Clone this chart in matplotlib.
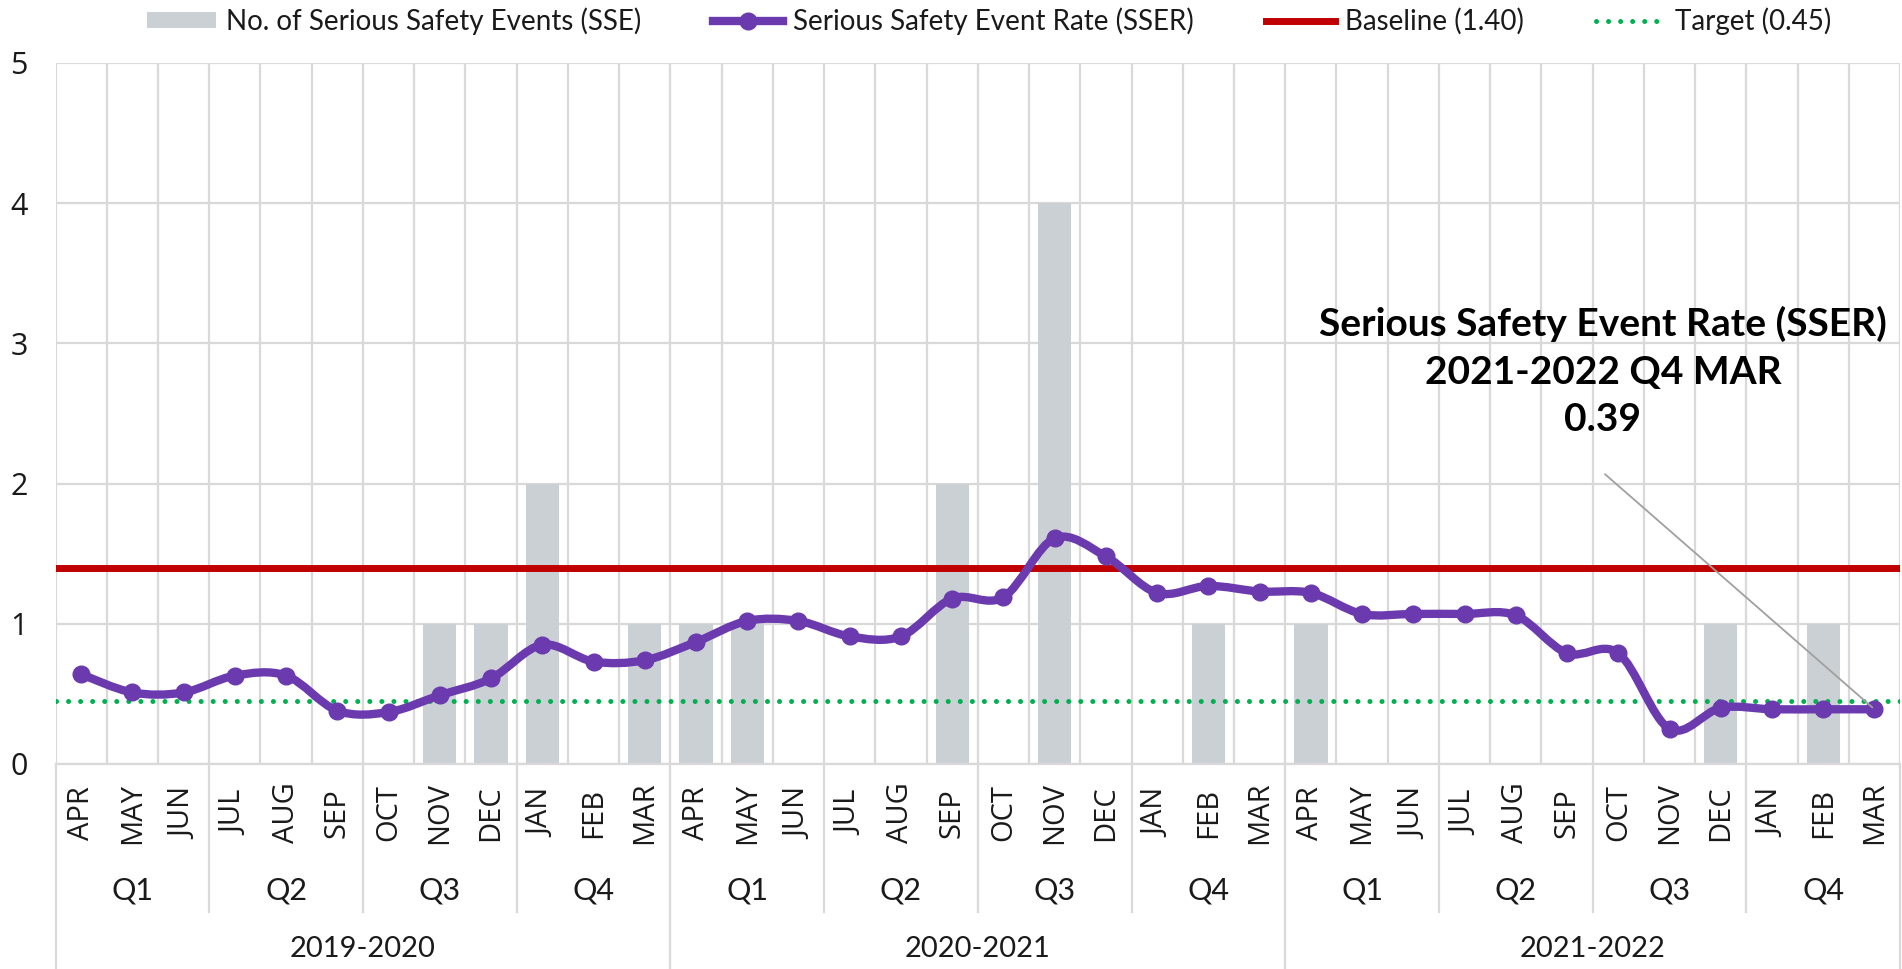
import numpy as np
import matplotlib
matplotlib.use("Agg")
import matplotlib.pyplot as plt
from matplotlib.path import Path
from matplotlib.patches import PathPatch, Patch
from matplotlib.lines import Line2D

plt.rcParams['font.family'] = ['Lato', 'DejaVu Sans']
AXFONT = ['Open Sans', 'DejaVu Sans']

# ---- data -------------------------------------------------------------
months = ['APR', 'MAY', 'JUN', 'JUL', 'AUG', 'SEP',
          'OCT', 'NOV', 'DEC', 'JAN', 'FEB', 'MAR']
quarters = ['Q1', 'Q2', 'Q3', 'Q4']
years = ['2019-2020', '2020-2021', '2021-2022']

sse = [0, 0, 0, 0, 0, 0, 0, 1, 1, 2, 0, 1,
       1, 1, 0, 0, 0, 2, 0, 4, 0, 0, 1, 0,
       1, 0, 0, 0, 0, 0, 0, 0, 1, 0, 1, 0]
sser = [0.64, 0.51, 0.51, 0.63, 0.63, 0.38, 0.37, 0.49, 0.61, 0.85, 0.73, 0.74,
        0.87, 1.02, 1.02, 0.91, 0.91, 1.18, 1.19, 1.61, 1.48, 1.22, 1.27, 1.23,
        1.22, 1.07, 1.07, 1.07, 1.06, 0.79, 0.79, 0.25, 0.40, 0.39, 0.39, 0.39]
baseline = 1.40
target = 0.45
latest_label = 'Serious Safety Event Rate (SSER)\n2021-2022 Q4 MAR\n0.39'

PURPLE = '#6a3aae'
RED = '#c00000'
GREEN = '#00b050'
BAR = '#cbd0d5'
GRID = '#d9d9d9'
TXT = '#1a1a1a'

n = len(sser)
x = np.arange(n)

fig = plt.figure(figsize=(19.02, 9.69), dpi=100)
ax = fig.add_axes([0.0292, 0.2116, 0.9698, 0.7234])

ax.bar(x, sse, width=0.65, color=BAR, zorder=1)

# smoothed line (Excel style bezier through the points)
pts = np.column_stack([x, sser]).astype(float)
ext = np.vstack([pts[0], pts, pts[-1]])
verts = [tuple(pts[0])]
codes = [Path.MOVETO]
for i in range(n - 1):
    p0, p1, p2, p3 = ext[i], ext[i + 1], ext[i + 2], ext[i + 3]
    c1 = p1 + (p2 - p0) / 6.0
    c2 = p2 - (p3 - p1) / 6.0
    verts += [tuple(c1), tuple(c2), tuple(p2)]
    codes += [Path.CURVE4] * 3
ax.add_patch(PathPatch(Path(verts, codes), facecolor='none', edgecolor=PURPLE,
                       lw=6, capstyle='round', joinstyle='round', zorder=4))
ax.plot(x, sser, 'o', color=PURPLE, ms=12, zorder=5)

ax.axhline(baseline, color=RED, lw=5, zorder=3)
ax.axhline(target, color=GREEN, lw=3.6, ls=(0, (0.01, 2.4)),
           dash_capstyle='round', zorder=3)

ax.set_xlim(-0.5, n - 0.5)
ax.set_ylim(0, 5)
ax.set_yticks(range(6))
ax.set_xticks([])
ax.set_xticks(np.arange(-0.5, n, 1), minor=True)
ax.grid(True, axis='y', color=GRID, lw=1.6, zorder=0)
ax.grid(True, axis='x', which='minor', color=GRID, lw=1.6, zorder=0)
ax.set_axisbelow(True)
ax.tick_params(axis='y', length=0, pad=20, labelsize=22, labelcolor=TXT)
ax.tick_params(axis='x', which='both', length=0)
for lab in ax.get_yticklabels():
    lab.set_family(AXFONT)
for s in ax.spines.values():
    s.set_visible(False)
ax.spines['bottom'].set_visible(True)
ax.spines['bottom'].set_color(GRID)
ax.spines['bottom'].set_linewidth(1.6)

# multi-level category axis
tr = ax.get_xaxis_transform()
for i in range(n):
    ax.text(i, -0.07, months[i % 12], rotation=90, ha='center', va='center',
            fontsize=21, color=TXT, transform=tr, family=AXFONT)
for q in range(n // 3):
    ax.text(q * 3 + 1, -0.18, quarters[q % 4], ha='center', va='center',
            fontsize=22, color=TXT, transform=tr)
for y in range(len(years)):
    ax.text(y * 12 + 5.5, -0.264, years[y], ha='center', va='center',
            fontsize=21, color=TXT, transform=tr)
for b in range(0, n + 1, 3):
    bottom = -0.2924 if b % 12 == 0 else -0.211
    ax.add_line(Line2D([b - 0.5, b - 0.5], [0, bottom], color=GRID, lw=1.6,
                       transform=tr, clip_on=False))

# callout for the latest value
ax.annotate('', xy=(n - 1, sser[-1]), xytext=(29.7, 2.08),
            arrowprops=dict(arrowstyle='-', color='#a0a0a0', lw=1.3), zorder=6)
ax.text(29.7, 2.80, latest_label, ha='center', va='center', fontsize=28,
        fontweight='bold', color='black', linespacing=1.42, zorder=6)

handles = [Patch(facecolor=BAR, edgecolor='none'),
           Line2D([], [], color=PURPLE, lw=6, marker='o', ms=12),
           Line2D([], [], color=RED, lw=5),
           Line2D([], [], color=GREEN, lw=3.6, ls=(0, (0.01, 2.4)),
                  dash_capstyle='round')]
labels = ['No. of Serious Safety Events (SSE)', 'Serious Safety Event Rate (SSER)',
          'Baseline (1.40)', 'Target (0.45)']
fig.legend(handles, labels, loc='center', bbox_to_anchor=(0.52, 0.978), ncol=4,
           frameon=False, fontsize=20, handlelength=2.5, handleheight=0.5,
           handletextpad=0.35, columnspacing=2.6, labelcolor=TXT)

fig.savefig('out.png', dpi=100)
